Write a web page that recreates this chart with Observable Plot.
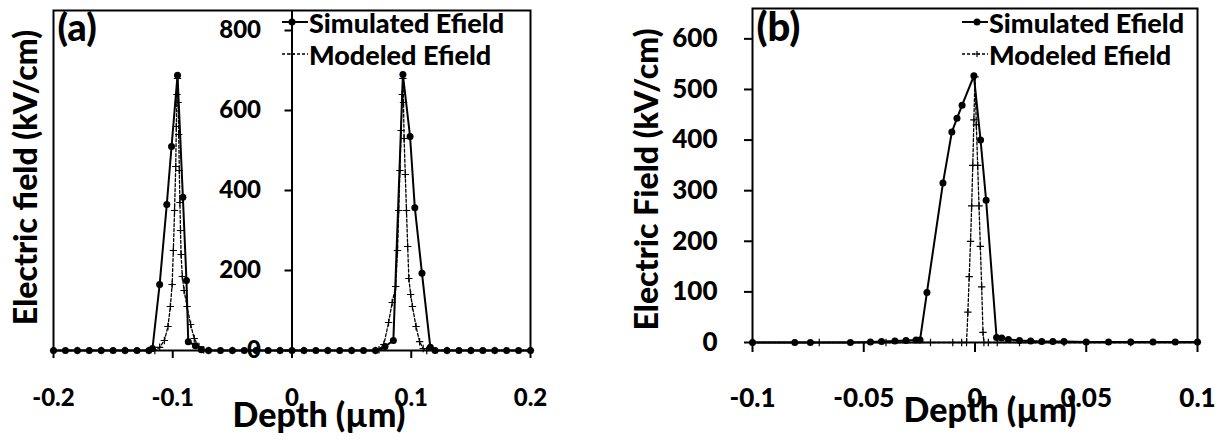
<!DOCTYPE html>
<html><head><meta charset="utf-8">
<script src="https://cdn.jsdelivr.net/npm/d3@7"></script>
<script src="https://cdn.jsdelivr.net/npm/@observablehq/plot@0.6"></script>
<style>
body{margin:0;background:#fff;}
#chart{position:relative;width:1224px;height:440px;font-family:Lato,"Open Sans",sans-serif;font-weight:900;color:#000;background:#fff;}
.panel{position:absolute;top:0;}
.legend{position:absolute;font-size:27px;white-space:nowrap;}
.legend .row{display:flex;align-items:center;height:32px;}
.legend svg{display:block;}
svg [aria-label^="x-axis"] line, svg [aria-label^="x-axis"] path,
svg [aria-label^="y-axis"] line, svg [aria-label^="y-axis"] path{stroke-width:2px;}
</style></head>
<body><div id="chart"></div>
<script>
// ---- Panel (a) data ----
const depthSimA = [-0.2,-0.19,-0.18,-0.17,-0.16,-0.15,-0.14,-0.13,-0.12,-0.117,-0.111,-0.105,-0.101,-0.096,-0.0915,-0.0885,-0.087,-0.081,-0.076,-0.07,-0.06,-0.05,-0.04,-0.03,-0.02,-0.01,0,0.01,0.02,0.03,0.04,0.05,0.06,0.07,0.078,0.085,0.093,0.099,0.103,0.109,0.116,0.12,0.13,0.14,0.15,0.16,0.17,0.18,0.19,0.2];
const efieldSimA = [0,0,0,0,0,0,0,0,0,5,165,365,510,688,383,175,22,12,2,0,0,0,0,0,0,0,0,0,0,0,0,0,0,0,10,25,690,535,357,193,8,0,0,0,0,0,0,0,0,0];
const depthModA = [-0.2,-0.18,-0.16,-0.14,-0.12,-0.115,-0.111,-0.107,-0.104,-0.102,-0.1005,-0.0995,-0.0985,-0.0975,-0.097,-0.0965,-0.096,-0.0955,-0.095,-0.0945,-0.094,-0.0935,-0.093,-0.092,-0.0905,-0.088,-0.085,-0.082,-0.078,-0.074,-0.07,-0.05,-0.03,-0.01,0.01,0.03,0.05,0.07,0.073,0.077,0.081,0.084,0.087,0.0885,0.0895,0.0905,0.0915,0.0925,0.093,0.0935,0.094,0.095,0.096,0.097,0.098,0.0995,0.101,0.104,0.107,0.11,0.113,0.13,0.15,0.17,0.2];
const efieldModA = [0,0,0,0,0,0,8,25,60,110,165,250,350,460,560,640,680,620,540,450,370,300,240,185,150,110,65,30,10,2,0,0,0,0,0,0,0,0,2,15,70,120,160,250,350,450,550,640,680,620,530,440,350,260,180,140,110,60,22,5,0,0,0,0,0];
const xTicksA = [-0.2,-0.1,0,0.1,0.2];
const yTicksA = [0,200,400,600,800];

// ---- Panel (b) data ----
const depthSimB = [-0.1,-0.081,-0.074,-0.056,-0.047,-0.042,-0.036,-0.031,-0.0265,-0.0247,-0.0216,-0.0144,-0.0104,-0.0081,-0.0058,-0.0005,0.0025,0.005,0.0097,0.012,0.015,0.02,0.025,0.03,0.035,0.04,0.05,0.06,0.07,0.08,0.09,0.1];
const efieldSimB = [0,0,0,0,1,2,3,4,5,5,99,315,416,443,469,527,400,281,10,9,6,4,3,2,2,2,1,1,1,1,1,1];
const depthModB = [-0.1,-0.07,-0.04,-0.02,-0.01,-0.006,-0.0038,-0.0032,-0.0026,-0.002,-0.0015,-0.001,-0.0005,0,0.0006,0.0012,0.0018,0.0024,0.003,0.0036,0.004,0.006,0.01,0.02,0.04,0.07,0.1];
const efieldModB = [0,0,0,0,0,0,0,60,130,200,270,350,440,525,430,350,270,190,110,20,0,0,0,0,0,0,0];
const xTicksB = [-0.1,-0.05,0,0.05,0.1];
const yTicksB = [0,100,200,300,400,500,600];

const seriesNames = ["Simulated Efield", "Modeled Efield"];

const rows = (xs, ys) => xs.map((d, i) => ({depth: d, efield: ys[i]}));
const simA = rows(depthSimA, efieldSimA), modA = rows(depthModA, efieldModA);
const simB = rows(depthSimB, efieldSimB), modB = rows(depthModB, efieldModB);
const fmt = d => String(d);

function seriesMarks(sim, mod) {
  return [
    Plot.line(mod, {x: "depth", y: "efield", stroke: "black", strokeWidth: 1.3, strokeDasharray: "3,2"}),
    Plot.dot(mod, {x: "depth", y: "efield", symbol: "plus", r: 2.5, stroke: "black", strokeWidth: 1.2}),
    Plot.line(sim, {x: "depth", y: "efield", stroke: "black", strokeWidth: 2}),
    Plot.dot(sim, {x: "depth", y: "efield", r: 3.5, fill: "black"})
  ];
}

const baseStyle = size => ({fontFamily: "Lato, 'Open Sans', sans-serif", fontSize: size, fontWeight: "900", background: "transparent", overflow: "visible", color: "black"});

const plotA = Plot.plot({
  width: 560, height: 440,
  marginLeft: 53, marginRight: 30, marginTop: 10, marginBottom: 90,
  style: baseStyle("24px"),
  x: {domain: [-0.2, 0.2], ticks: xTicksA, tickFormat: fmt, tickSize: 8, tickPadding: 30, label: null},
  y: {domain: [0, 850], axis: null},
  marks: [
    Plot.frame({stroke: "black", strokeWidth: 2}),
    Plot.ruleX([0], {stroke: "black", strokeWidth: 2}),
    Plot.ruleY(yTicksA, {y: d => d, x1: () => 0, x2: () => 0, insetLeft: -7, stroke: "black", strokeWidth: 2}),
    Plot.text(yTicksA, {x: () => 0, y: d => d, text: fmt, textAnchor: "end", dx: -31, fontSize: 24}),
    ...seriesMarks(simA, modA),
    Plot.text(["(a)"], {text: d => d, frameAnchor: "top-left", textAnchor: "start", lineAnchor: "top", dx: 4, dy: 4, fontSize: 38}),
    Plot.text(["Depth (µm)"], {text: d => d, frameAnchor: "bottom", textAnchor: "middle", lineAnchor: "top", dx: 27, dy: 52, fontSize: 34}),
    Plot.text(["Electric field (kV/cm)"], {text: d => d, frameAnchor: "left", textAnchor: "middle", lineAnchor: "middle", rotate: -90, dx: -27, dy: -3, fontSize: 32})
  ]
});

const plotB = Plot.plot({
  width: 624, height: 440,
  marginLeft: 152, marginRight: 27, marginTop: 8, marginBottom: 98,
  style: baseStyle("26px"),
  x: {domain: [-0.1, 0.1], ticks: xTicksB, tickFormat: fmt, tickSize: 10, tickPadding: 36, label: null},
  y: {domain: [0, 660], ticks: yTicksB, tickFormat: fmt, tickSize: 8, tickPadding: 27, label: null},
  marks: [
    Plot.frame({stroke: "black", strokeWidth: 2}),
    ...seriesMarks(simB, modB),
    Plot.text(["(b)"], {text: d => d, frameAnchor: "top-left", textAnchor: "start", lineAnchor: "top", dx: 4, dy: 4, fontSize: 40}),
    Plot.text(["Depth (µm)"], {text: d => d, frameAnchor: "bottom", textAnchor: "middle", lineAnchor: "top", dx: 15, dy: 55, fontSize: 34}),
    Plot.text(["Electric Field (kV/cm)"], {text: d => d, frameAnchor: "left", textAnchor: "middle", lineAnchor: "middle", rotate: -90, dx: -105, dy: 4, fontSize: 32})
  ]
});

const chart = document.getElementById("chart");
function addPanel(node, left) {
  const wrap = document.createElement("div");
  wrap.className = "panel";
  wrap.style.left = left + "px";
  wrap.appendChild(node);
  chart.appendChild(wrap);
}
addPanel(plotA, 0);
addPanel(plotB, 600);

function swatch(kind, markerX) {
  const ns = "http://www.w3.org/2000/svg";
  const svg = document.createElementNS(ns, "svg");
  svg.setAttribute("width", 28); svg.setAttribute("height", 14);
  const line = document.createElementNS(ns, "line");
  line.setAttribute("x1", 1); line.setAttribute("x2", 27); line.setAttribute("y1", 7); line.setAttribute("y2", 7);
  line.setAttribute("stroke", "black");
  if (kind === 0) {
    line.setAttribute("stroke-width", 2);
    svg.appendChild(line);
    const c = document.createElementNS(ns, "circle");
    c.setAttribute("cx", markerX); c.setAttribute("cy", 7); c.setAttribute("r", 3.5);
    svg.appendChild(c);
  } else {
    line.setAttribute("stroke-width", 1.3); line.setAttribute("stroke-dasharray", "3,2");
    svg.appendChild(line);
    const p = document.createElementNS(ns, "path");
    p.setAttribute("d", `M${markerX-3},7H${markerX+3}M${markerX},4V10`);
    p.setAttribute("stroke", "black"); p.setAttribute("stroke-width", 1.2);
    svg.appendChild(p);
  }
  return svg;
}
function addLegend(left, top, markerX) {
  const lg = document.createElement("div");
  lg.className = "legend";
  lg.style.left = left + "px"; lg.style.top = top + "px";
  seriesNames.forEach((name, k) => {
    const row = document.createElement("div");
    row.className = "row";
    row.appendChild(swatch(k, markerX));
    const span = document.createElement("span");
    span.textContent = name;
    row.appendChild(span);
    lg.appendChild(row);
  });
  chart.appendChild(lg);
}
addLegend(281, 6, 11);
addLegend(961, 6, 16);
</script></body></html>
